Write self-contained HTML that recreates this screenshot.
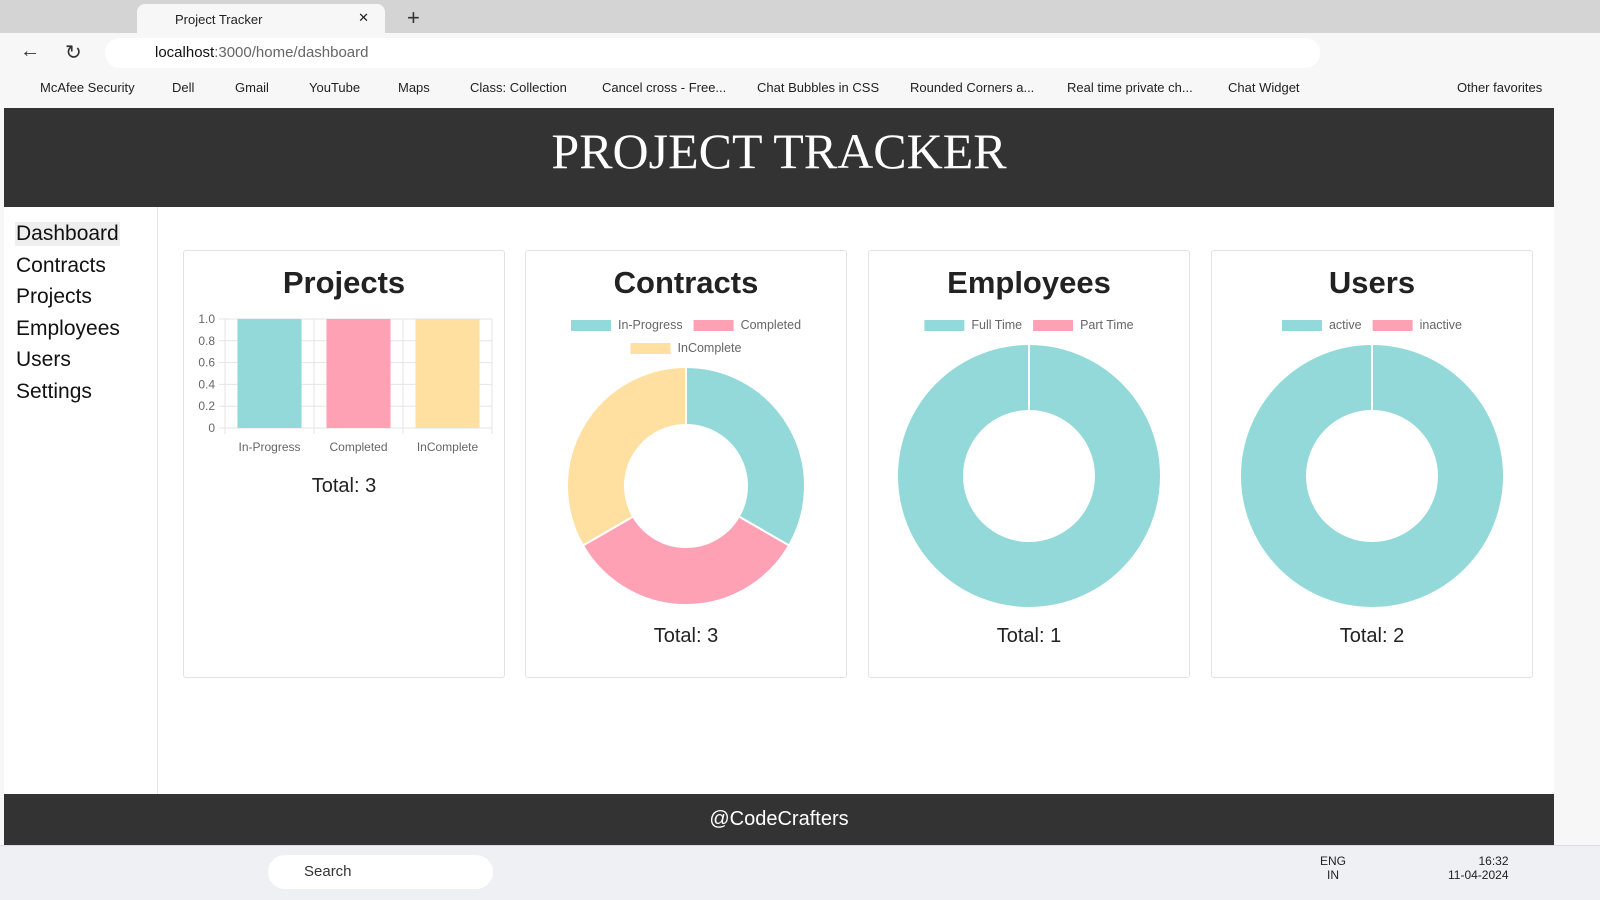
<!DOCTYPE html>
<html><head><meta charset="utf-8"><style>
*{box-sizing:border-box;margin:0;padding:0}
body{width:1600px;height:900px;overflow:hidden;background:#f7f7f7;font-family:"Liberation Sans",sans-serif;position:relative}
.abs{position:absolute}
.tabbar{left:0;top:0;width:1600px;height:33px;background:#d4d4d4}
.tab{left:137px;top:4px;width:248px;height:29px;background:#f7f7f7;border-radius:8px 8px 0 0;font-size:13px;color:#222;padding:8px 0 0 38px}
.addr{left:105px;top:38px;width:1215px;height:30px;background:#fff;border-radius:15px;font-size:15px;color:#666;padding:6px 0 0 50px}
.addr b{font-weight:normal;color:#111}
.bm{top:80px;font-size:13px;color:#222}
.page{left:4px;top:108px;width:1550px;height:737px;background:#fff}
.header{left:4px;top:108px;width:1550px;height:99px;background:#333;color:#fff;font-family:"Liberation Serif",serif;font-size:50px;text-align:center;line-height:86px}
.side{left:4px;top:207px;width:154px;height:587px;border-right:1px solid #e6e6e6}
.nav{left:15px;font-size:21px;color:#111;padding:0 1px}
.card{width:322px;height:428px;top:250px;border:1px solid #e3e3e3;border-radius:3px;background:#fff}
.ctitle{width:100%;text-align:center;top:14px;font-size:31px;font-weight:bold;color:#222}
.total{width:100%;text-align:center;font-size:20px;color:#222}
.footer{left:4px;top:794px;width:1550px;height:51px;background:#333;color:#fff;text-align:center;font-size:20px;line-height:51px}
.taskbar{left:0;top:845px;width:1600px;height:55px;background:#eef0f4;border-top:1px solid #ddd}
.rside{left:1554px;top:72px;width:46px;height:773px;background:#f7f7f7}
svg text{font-family:"Liberation Sans",sans-serif}
</style></head><body>
<div class="abs tabbar"></div>
<div class="abs tab">Project Tracker<span style="position:absolute;right:16px;top:6px">✕</span></div>
<div class="abs" style="left:407px;top:5px;font-size:22px;color:#333">+</div>
<div class="abs" style="left:20px;top:40px;font-size:20px;color:#333">←</div>
<div class="abs" style="left:65px;top:40px;font-size:20px;color:#333">↻</div>
<div class="abs addr"><b>localhost</b>:3000/home/dashboard</div>
<div class="abs bm" style="left:40px">McAfee Security</div>
<div class="abs bm" style="left:172px">Dell</div>
<div class="abs bm" style="left:235px">Gmail</div>
<div class="abs bm" style="left:309px">YouTube</div>
<div class="abs bm" style="left:398px">Maps</div>
<div class="abs bm" style="left:470px">Class: Collection</div>
<div class="abs bm" style="left:602px">Cancel cross - Free...</div>
<div class="abs bm" style="left:757px">Chat Bubbles in CSS</div>
<div class="abs bm" style="left:910px">Rounded Corners a...</div>
<div class="abs bm" style="left:1067px">Real time private ch...</div>
<div class="abs bm" style="left:1228px">Chat Widget</div>
<div class="abs bm" style="left:1457px">Other favorites</div>
<div class="abs rside"></div>
<div class="abs page"></div>
<div class="abs header">PROJECT TRACKER</div>
<div class="abs side"></div>
<div class="abs nav" style="top:222px;background:#eee">Dashboard</div>
<div class="abs nav" style="top:254px">Contracts</div>
<div class="abs nav" style="top:285px">Projects</div>
<div class="abs nav" style="top:317px">Employees</div>
<div class="abs nav" style="top:348px">Users</div>
<div class="abs nav" style="top:380px">Settings</div>

<div class="abs card" style="left:183px">
 <div class="abs ctitle">Projects</div>
 <div class="abs total" style="top:224px">Total: 3</div>
</div>
<div class="abs card" style="left:525px">
 <div class="abs ctitle">Contracts</div>
 <div class="abs total" style="top:374px">Total: 3</div>
</div>
<div class="abs card" style="left:868px">
 <div class="abs ctitle">Employees</div>
 <div class="abs total" style="top:374px">Total: 1</div>
</div>
<div class="abs card" style="left:1211px">
 <div class="abs ctitle">Users</div>
 <div class="abs total" style="top:374px">Total: 2</div>
</div>
<svg class="abs" style="left:0;top:0" width="1600" height="900" id="charts"></svg>
<div class="abs footer">@CodeCrafters</div>
<div class="abs taskbar">
 <div class="abs" style="left:268px;top:9px;width:225px;height:34px;background:#fff;border-radius:17px;font-size:15px;color:#333;padding:8px 0 0 36px">Search</div>
 <div class="abs" style="left:1320px;top:8px;font-size:12px;color:#222;text-align:center">ENG<br>IN</div>
 <div class="abs" style="left:1448px;top:8px;font-size:12px;color:#222;text-align:right">16:32<br>11-04-2024</div>
</div>
<script>
const projCategories=["In-Progress","Completed","InComplete"];
const projValues=[1,1,1];
const projTicks=[0,0.2,0.4,0.6,0.8,1.0];
const contractLabels=["In-Progress","Completed","InComplete"];
const contractValues=[1,1,1];
const employeeLabels=["Full Time","Part Time"];
const employeeValues=[1,0];
const userLabels=["active","inactive"];
const userValues=[2,0];
const COLORS=["#93d9d9","#ffa1b5","#ffe0a0"];
const NS="http://www.w3.org/2000/svg";
const svg=document.getElementById('charts');
function mk(tag,attrs){const e=document.createElementNS(NS,tag);for(const k in attrs)e.setAttribute(k,attrs[k]);svg.appendChild(e);return e;}
// bar chart
const px0=225,px1=492,py0=428,py1=319;
const yS=v=>py0-(v/1)*(py0-py1);
const bw=(px1-px0)/projCategories.length;
projTicks.forEach(t=>{
 const l=mk('line',{x1:px0-6,x2:px1,y1:yS(t),y2:yS(t),stroke:'#e5e5e5'});
 
 const tx=mk('text',{x:px0-10,y:yS(t)+4,'text-anchor':'end','font-size':12,fill:'#666'});
 tx.textContent=t===0?'0':t.toFixed(1);
 
});
for(let i=0;i<=projCategories.length;i++){
 const l=mk('line',{x1:px0+i*bw,x2:px0+i*bw,y1:py1,y2:py0+6,stroke:'#e5e5e5'});
 
}
projCategories.forEach((c,i)=>{
 const x=px0+i*bw+bw*0.14,w=bw*0.72;
 const r=mk('rect',{x:x,y:yS(projValues[i]),width:w,height:py0-yS(projValues[i]),fill:COLORS[i]});
 
 const t=mk('text',{x:px0+i*bw+bw/2,y:451,'text-anchor':'middle','font-size':12,fill:'#666'});
 t.textContent=c;
});
// donuts
function donut(cx,cy,R,r,labels,values,legendRows){
 legendRows.forEach((row,ri)=>{
  const y=legendRows.y0+ri*23;
  const items=row.map(i=>{
   const b=mk('rect',{y:y-5,width:40,height:11,fill:COLORS[i]});
   
   const t=mk('text',{y:y+4,'font-size':12.5,fill:'#666'});
   t.textContent=labels[i];
   return {b,t,w:47+t.getComputedTextLength()};
  });
  const tot=items.reduce((a,b)=>a+b.w,0)+(items.length-1)*11;
  let x=cx-tot/2;
  items.forEach(it=>{it.b.setAttribute('x',x);it.t.setAttribute('x',x+47);x+=it.w+11;});
 });
 const sum=values.reduce((a,b)=>a+b,0);
 let a=-Math.PI/2;
 values.forEach((v,i)=>{
  const sweep=v/sum*2*Math.PI;
  let el;
  if(sweep>=2*Math.PI-1e-6){
   el=mk('circle',{cx:cx,cy:cy,r:(R+r)/2,fill:'none',stroke:COLORS[i],'stroke-width':R-r});
   const s=mk('line',{x1:cx,y1:cy-R,x2:cx,y2:cy-r,stroke:'#fff','stroke-width':2});
   
  } else if(sweep>0){
   const b=a+sweep,lg=sweep>Math.PI?1:0;
   const p=(rad,t)=>`${cx+rad*Math.cos(t)} ${cy+rad*Math.sin(t)}`;
   el=mk('path',{d:`M${p(R,a)}A${R} ${R} 0 ${lg} 1 ${p(R,b)}L${p(r,b)}A${r} ${r} 0 ${lg} 0 ${p(r,a)}Z`,fill:COLORS[i],stroke:'#fff','stroke-width':2});
  }
  if(el){}
  a+=sweep;
 });
}
const lc=[[0,1],[2]];lc.y0=325;
donut(686,486,119,61,contractLabels,contractValues,lc);
const le=[[0,1]];le.y0=325;
donut(1029,476,131,66,employeeLabels,employeeValues,le);
const lu=[[0,1]];lu.y0=325;
donut(1372,476,131,66,userLabels,userValues,lu);
</script>
</body></html>
